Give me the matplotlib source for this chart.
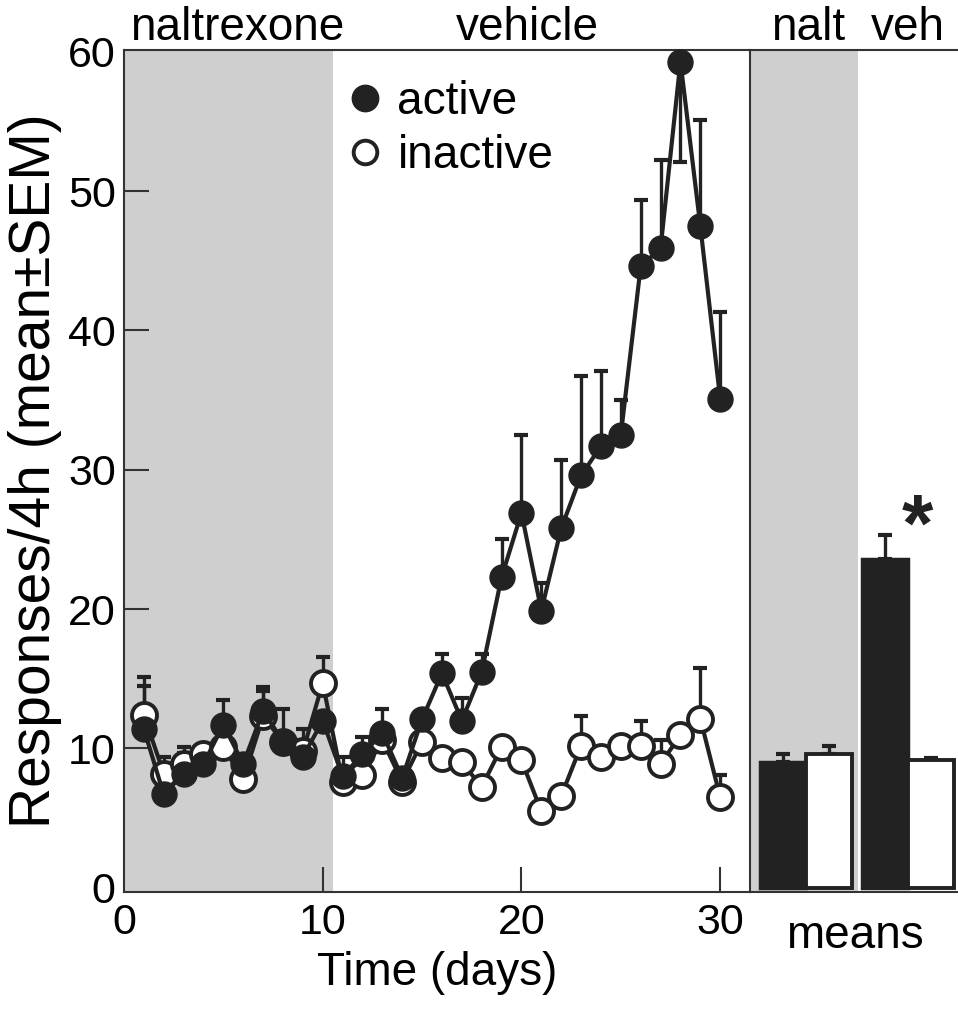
import numpy as np
import matplotlib
matplotlib.use("Agg")
import matplotlib.pyplot as plt
from matplotlib.lines import Line2D

plt.rcParams['font.family'] = ['Liberation Sans', 'DejaVu Sans']

# dane
days = np.arange(1, 31)
active = [11.4, 6.7, 8.2, 8.9, 11.7, 8.9, 12.7, 10.5, 9.4, 12.0,
          8.0, 9.6, 11.1, 7.9, 12.1, 15.4, 12.0, 15.5, 22.3, 26.9,
          19.9, 25.8, 29.6, 31.7, 32.5, 44.6, 45.9, 59.3, 47.5, 35.1]
active_err_up = [3.1, 1.0, 1.5, 0.5, 1.8, 0.4, 1.7, 2.3, 1.2, 0.5,
                 1.4, 1.2, 1.7, 0.4, 0.3, 1.4, 1.6, 1.3, 2.7, 5.6,
                 2.0, 4.9, 7.1, 5.4, 2.5, 4.8, 6.3, 0.0, 7.6, 6.2]
active_err_dn = [0, 0, 0, 0, 0, 0, 0, 0, 0, 0,
                 0, 0, 0, 0, 0, 0, 0, 0, 0, 0,
                 0, 0, 0, 0, 0, 0, 0, 7.2, 0, 0]
inactive = [12.4, 8.2, 8.9, 9.6, 10.1, 7.8, 12.3, 10.5, 9.8, 14.7,
            7.6, 8.1, 10.6, 7.6, 10.5, 9.35, 9.0, 7.25, 10.1, 9.15,
            5.5, 6.6, 10.2, 9.4, 10.2, 10.2, 8.9, 10.95, 12.15, 6.5]
inactive_err = [2.7, 1.2, 1.2, 0.3, 0.5, 0.3, 1.8, 0.5, 1.6, 1.9,
                0.6, 0.3, 0.3, 0.3, 0.3, 0.3, 0.3, 0.3, 0.3, 0.3,
                0.3, 0.3, 2.1, 0.3, 0.3, 1.8, 1.7, 0.3, 3.6, 1.6]

# srednie (nalt, veh)
mean_active = [9.0, 23.6]
mean_active_err = [0.6, 1.7]
mean_inactive = [9.6, 9.2]
mean_inactive_err = [0.6, 0.15]

nalt_end = 10.5
ink = '#222222'
gray = '#cfcfcf'

fig = plt.figure(figsize=(9.58, 10.16), dpi=100)
W, H = 958.0, 1016.0
ax1 = fig.add_axes([124 / W, 1 - 892 / H, 626 / W, 842 / H])
ax2 = fig.add_axes([750 / W, 1 - 892 / H, 208 / W, 842 / H])

# PANEL GLOWNY
ax1.axvspan(0, nalt_end, color=gray, lw=0, zorder=0)

ax1.errorbar(days, inactive, yerr=[np.zeros(30), inactive_err], fmt='none',
             ecolor=ink, elinewidth=2.4, capsize=5, capthick=3, zorder=2)
ax1.errorbar(days, active, yerr=[active_err_dn, active_err_up], fmt='none',
             ecolor=ink, elinewidth=2.4, capsize=5, capthick=3, zorder=2)

ax1.plot(days, inactive, '-o', color=ink, lw=3, ms=18, mfc='white', mec=ink,
         mew=2.8, zorder=3, clip_on=False)
ax1.plot(days, active, '-o', color=ink, lw=3, ms=18, mfc=ink, mec=ink,
         mew=1, zorder=4, clip_on=False)

ax1.set_xlim(0, 31.5)
ax1.set_ylim(-0.3, 60.13)
ax1.set_xticks([0, 10, 20, 30])
ax1.set_yticks([0, 10, 20, 30, 40, 50, 60])
ax1.tick_params(direction='in', length=18, width=1.5, color='#333333',
                labelsize=31)
ax1.tick_params(axis='x', pad=8)
ax1.tick_params(axis='y', pad=6)
# kreski na 0 i 60 zlewaja sie ze spine
ax1.yaxis.get_major_ticks()[0].tick1line.set_visible(False)
ax1.yaxis.get_major_ticks()[-1].tick1line.set_visible(False)
ax1.xaxis.get_major_ticks()[0].tick1line.set_visible(False)
for s in ['left', 'bottom', 'top']:
    ax1.spines[s].set_linewidth(1.5)
    ax1.spines[s].set_color('#333333')
ax1.spines['right'].set_visible(False)

ax1.set_xlabel('Time (days)', fontsize=33, labelpad=6)
ax1.set_ylabel('Responses/4h (mean±SEM)', fontsize=41, labelpad=4)

h_act = Line2D([], [], ls='none', marker='o', ms=19, mfc=ink, mec=ink)
h_ina = Line2D([], [], ls='none', marker='o', ms=17, mfc='white', mec=ink, mew=2.8)
ax1.legend([h_act, h_ina], ['active', 'inactive'], loc='upper left',
           bbox_to_anchor=(347 / W, 1 - 80 / H), bbox_transform=fig.transFigure,
           frameon=False, fontsize=33, handlelength=0.8, handletextpad=0.3,
           labelspacing=0.22, borderpad=0, borderaxespad=0)

# PANEL SREDNICH
ax2.axvspan(0, 2.35, color=gray, lw=0, zorder=0)
bar_w = 1.0
black_x = [0.22, 2.43]
white_x = [1.22, 3.43]
ax2.bar(black_x, mean_active, width=bar_w, align='edge', color=ink,
        edgecolor=ink, lw=2.5, zorder=2)
ax2.bar(white_x, mean_inactive, width=bar_w, align='edge', color='white',
        edgecolor=ink, lw=2.8, zorder=2)
ax2.errorbar(np.array(black_x) + bar_w / 2, mean_active,
             yerr=[[0, 0], mean_active_err], fmt='none', ecolor=ink,
             elinewidth=2.4, capsize=5, capthick=3, zorder=1)
ax2.errorbar(np.array(white_x) + bar_w / 2, mean_inactive,
             yerr=[[0, 0], mean_inactive_err], fmt='none', ecolor=ink,
             elinewidth=2.4, capsize=5, capthick=3, zorder=1)
ax2.set_xlim(0, 4.52)
ax2.set_ylim(-0.3, 60.13)
ax2.set_xticks([])
ax2.set_yticks([])
for s in ['left', 'bottom', 'top']:
    ax2.spines[s].set_linewidth(1.5)
    ax2.spines[s].set_color('#333333')
ax2.spines['right'].set_visible(False)

ax2.text(3.63, 23.0, '*', fontsize=58, fontweight='bold', ha='center',
         va='bottom', color=ink)

# NAPISY
fig.text(237 / W, 1 - 40 / H, 'naltrexone', fontsize=33, ha='center', va='baseline')
fig.text(527 / W, 1 - 40 / H, 'vehicle', fontsize=33, ha='center', va='baseline')
fig.text(808 / W, 1 - 40 / H, 'nalt', fontsize=33, ha='center', va='baseline')
fig.text(908 / W, 1 - 40 / H, 'veh', fontsize=33, ha='center', va='baseline')
fig.text(855 / W, 1 - 948 / H, 'means', fontsize=33, ha='center', va='baseline')

fig.savefig('out.png', dpi=100)
